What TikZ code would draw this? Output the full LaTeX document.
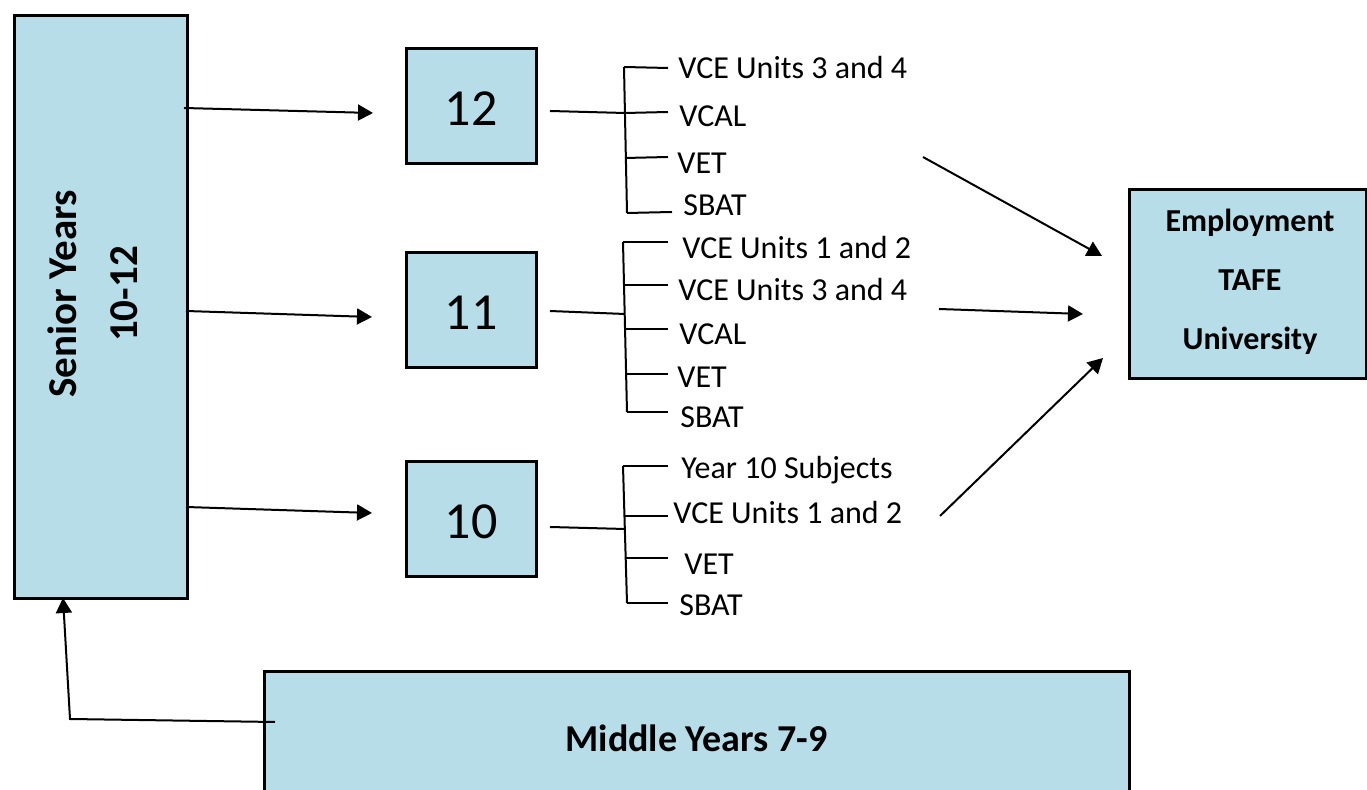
\documentclass[tikz,border=0pt]{standalone}
\usepackage{fontspec}
\setmainfont{Carlito}
\usetikzlibrary{arrows.meta}
\definecolor{boxblue}{RGB}{183,221,232}

\begin{document}
\begin{tikzpicture}[x=0.5pt, y=-0.5pt,
    block/.style={rectangle, draw=black, line width=1.5pt, fill=boxblue},
    yearbox/.style={block, minimum width=65pt, minimum height=57.5pt, text height=19.5pt, text depth=0pt, font=\fontsize{26}{30}\selectfont},
    item/.style={anchor=base west, inner sep=0pt, font=\fontsize{16}{19}\selectfont},
    flow/.style={-{Triangle[length=7.5pt,width=8pt]}, line width=1pt},
    brace/.style={line width=1pt}
]

\clip (0,0) rectangle (1367,790);

% Stages
\node[block, minimum width=86.5pt, minimum height=291.5pt] (senior) at (100.5,307.5) {};
\node[rotate=90, align=center, font=\fontsize{20.5}{30.5}\selectfont\bfseries] (seniortxt) at (93,294) {Senior Years\\10-12};

\node[block, minimum width=432.5pt, minimum height=68.5pt] (middle) at (696.5,740.5) {};
\node[font=\fontsize{19}{22}\selectfont\bfseries] (middletxt) at (696.5,738) {Middle Years 7-9};

\node[block, minimum width=118.5pt, minimum height=94.5pt] (dest) at (1247.5,284.5) {};
\node[align=center, font=\fontsize{16}{29.5}\selectfont\bfseries] (desttxt) at (1250,282) {Employment\\TAFE\\University};

% Year levels
\node[yearbox] (y12) at (471,106.5) {12};
\node[yearbox] (y11) at (471,310) {11};
\node[yearbox] (y10) at (471,519.5) {10};

% Year 12 options
\node[item] (o12a) at (678,79) {VCE Units 3 and 4};
\node[item] (o12b) at (679,127) {VCAL};
\node[item] (o12c) at (677,174) {VET};
\node[item] (o12d) at (683,216) {SBAT};

\foreach \n/\xa/\ya/\xb/\yb in {a/624/67/668/68, b/625/113/668/112, c/625/158/668/157, d/627/213/672/212} {
    \coordinate (r12\n) at (\xa,\ya);
    \coordinate (e12\n) at (\xb,\yb);
    \draw[brace] (r12\n) -- (e12\n);
}
\coordinate (h12) at (550,111);
\draw[brace] (r12a) -- (r12d);
\draw[brace] (h12) -- (r12b);

% Year 11 options
\node[item] (o11a) at (682,259) {VCE Units 1 and 2};
\node[item] (o11b) at (678,301) {VCE Units 3 and 4};
\node[item] (o11c) at (679,345) {VCAL};
\node[item] (o11d) at (677,388) {VET};
\node[item] (o11e) at (680,428) {SBAT};

\foreach \n/\xa/\ya/\xb/\yb in {a/623/242/668/242, b/624/285/668/285, c/625/329/668/329, d/626/374/668/374, e/627/412/668/412} {
    \coordinate (r11\n) at (\xa,\ya);
    \coordinate (e11\n) at (\xb,\yb);
    \draw[brace] (r11\n) -- (e11\n);
}
\coordinate (h11) at (550,311);
\coordinate (j11) at (625,314);
\draw[brace] (r11a) -- (r11e);
\draw[brace] (h11) -- (j11);

% Year 10 options
\node[item] (o10a) at (681,479) {Year 10 Subjects};
\node[item] (o10b) at (673,524) {VCE Units 1 and 2};
\node[item] (o10c) at (684,575) {VET};
\node[item] (o10d) at (679,616) {SBAT};

\foreach \n/\xa/\ya/\xb/\yb in {a/623/466/668/466, b/625/516/668/516, c/626/558/668/558, d/627/603/668/603} {
    \coordinate (r10\n) at (\xa,\ya);
    \coordinate (e10\n) at (\xb,\yb);
    \draw[brace] (r10\n) -- (e10\n);
}
\coordinate (h10) at (550,527);
\coordinate (j10) at (625,529);
\draw[brace] (r10a) -- (r10d);
\draw[brace] (h10) -- (j10);

% Senior years into each year level
\coordinate (in12) at (184,108);
\coordinate (to12) at (373,113);
\coordinate (in11) at (186,311);
\coordinate (to11) at (372,317);
\coordinate (in10) at (186,507);
\coordinate (to10) at (372,513);
\draw[flow] (in12) -- (to12);
\draw[flow] (in11) -- (to11);
\draw[flow] (in10) -- (to10);

% Pathways out
\coordinate (out12) at (923,157);
\coordinate (end12) at (1102,256);
\coordinate (out11) at (939,309);
\coordinate (end11) at (1083,314);
\coordinate (out10) at (940,516);
\coordinate (end10) at (1103,358);
\draw[flow] (out12) -- (end12);
\draw[flow] (out11) -- (end11);
\draw[flow] (out10) -- (end10);

% Middle years up to senior years
\coordinate (mstart) at (275,722);
\coordinate (mbend) at (70,719);
\coordinate (mend) at (63,598);
\draw[flow] (mstart) -- (mbend) -- (mend);

\end{tikzpicture}
\end{document}
